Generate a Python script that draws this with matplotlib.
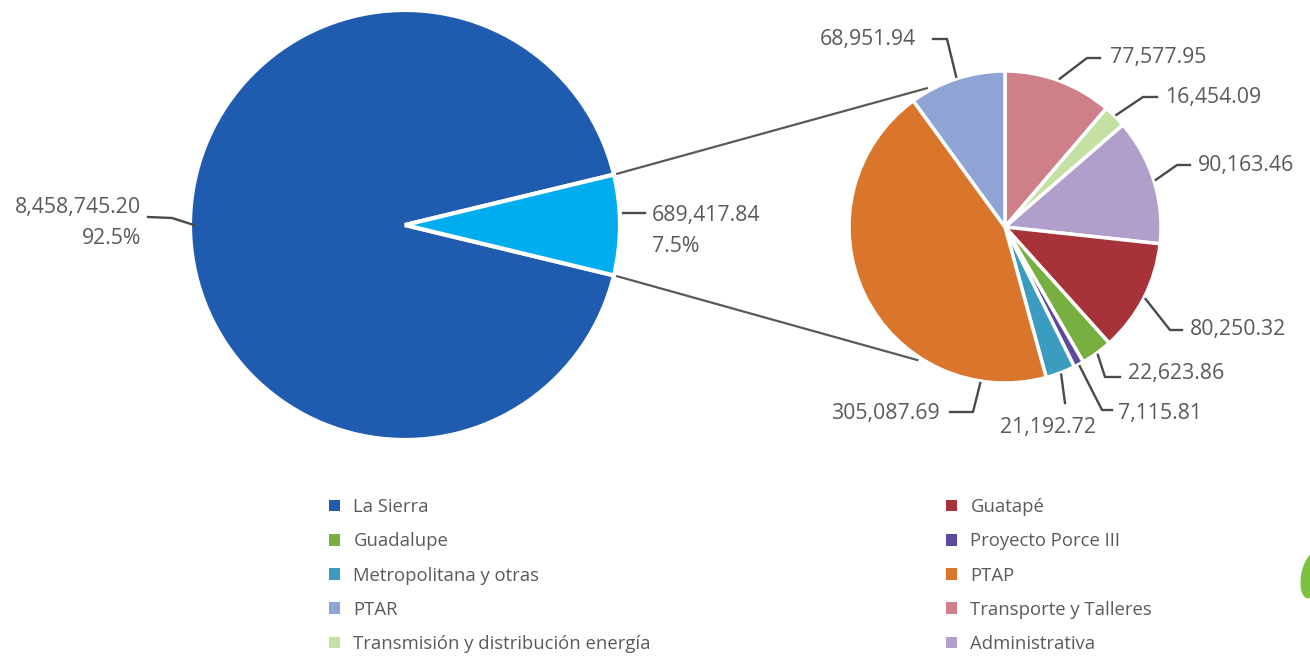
import numpy as np
import matplotlib
matplotlib.use("Agg")
import matplotlib.pyplot as plt
from matplotlib.patches import Patch, Ellipse

plt.rcParams['font.family'] = ['Open Sans', 'DejaVu Sans']

W, H = 1310, 658
TEXT = '#5a5a5a'
LINE = '#4a4a4a'

# Totals split: La Sierra vs. the rest
main_labels = ['La Sierra', 'Otras']
main_values = [8458745.20, 689417.84]
main_colors = ['#1f5baf', '#00adee']

# Breakdown of the rest, clockwise from twelve o'clock
sub_labels = ['Transporte y Talleres', 'Transmisión y distribución energía',
              'Administrativa', 'Guatapé', 'Guadalupe', 'Proyecto Porce III',
              'Metropolitana y otras', 'PTAP', 'PTAR']
sub_values = [77577.95, 16454.09, 90163.46, 80250.32, 22623.86, 7115.81,
              21192.72, 305087.69, 68951.94]
sub_colors = ['#cf7f88', '#c4e0a2', '#b19fcb', '#a8323a', '#77b041',
              '#5d4a9b', '#3b9cbf', '#da762c', '#8fa3d4']

legend_left = ['La Sierra', 'Guadalupe', 'Metropolitana y otras', 'PTAR',
               'Transmisión y distribución energía']
legend_right = ['Guatapé', 'Proyecto Porce III', 'PTAP',
                'Transporte y Talleres', 'Administrativa']

color_of = dict(zip(sub_labels, sub_colors))
color_of['La Sierra'] = main_colors[0]


def px(x, y):
    """Pixel position (y measured from the top) to data coordinates."""
    return x, H - y


fig = plt.figure(figsize=(W / 100, H / 100), dpi=100)
ax = fig.add_axes([0, 0, 1, 1])

# ---- main pie -------------------------------------------------------------
c_main = np.array(px(405, 225))
r_main = 215
total = sum(main_values)
theta_other = 360 * main_values[1] / total
main_wedges, _ = ax.pie(main_values, colors=main_colors, center=c_main,
                        radius=r_main, startangle=theta_other / 2,
                        counterclock=True, frame=True,
                        wedgeprops=dict(edgecolor='white', linewidth=3))

# ---- breakdown pie --------------------------------------------------------
c_sub = np.array(px(1005, 227))
r_sub = 156
sub_wedges, _ = ax.pie(sub_values, colors=sub_colors, center=c_sub,
                       radius=r_sub, startangle=90, counterclock=False,
                       frame=True,
                       wedgeprops=dict(edgecolor='white', linewidth=2.5))


def on_circle(c, r, ang):
    a = np.deg2rad(ang)
    return c + r * np.array([np.cos(a), np.sin(a)])


# connectors between the two pies
w_other = main_wedges[1]
for a_main, a_sub in [(w_other.theta2, 119), (w_other.theta1, -123)]:
    p0 = on_circle(c_main, r_main + 2, a_main)
    p1 = on_circle(c_sub, r_sub + 3, a_sub)
    ax.plot([p0[0], p1[0]], [p0[1], p1[1]], color='#5a5a5a', lw=1.6,
            solid_capstyle='butt', zorder=0)

# ---- value labels on the main pie ---------------------------------------
vsize = 15.3
p_edge = on_circle(c_main, r_main - 4, 180)
ax.plot([p_edge[0], 172, 148], [p_edge[1], H - 218, H - 217], color=LINE,
        lw=1.7)
ax.text(*px(141, 207), f"{main_values[0]:,.2f}", ha='right', va='center',
        fontsize=vsize, color=TEXT)
ax.text(*px(141, 238), f"{main_values[0] / total * 100:.1f}%", ha='right',
        va='center', fontsize=vsize, color=TEXT)

ax.plot([c_main[0] + r_main + 3, 645], [H - 213, H - 213], color=LINE, lw=1.7)
ax.text(*px(652, 216), f"{main_values[1]:,.2f}", ha='left', va='center',
        fontsize=vsize, color=TEXT)
ax.text(*px(652, 246), f"{main_values[1] / total * 100:.1f}%", ha='left',
        va='center', fontsize=vsize, color=TEXT)

# ---- value labels on the breakdown pie ----------------------------------
# name: (start angle override, elbow, end of shelf, text anchor, alignment)
label_layout = {
    'PTAR': (None, (947, 39), (933, 39), (916, 40), 'right'),
    'Transporte y Talleres': (None, (1087, 58), (1100, 58), (1110, 57), 'left'),
    'Transmisión y distribución energía': (None, (1143, 97), (1157, 97),
                                           (1165, 97), 'left'),
    'Administrativa': (None, (1177, 165), (1190, 165), (1198, 165), 'left'),
    'Guatapé': (None, (1170, 330), (1182, 330), (1190, 330), 'left'),
    'Guadalupe': (None, (1105, 377), (1120, 377), (1128, 374), 'left'),
    'Proyecto Porce III': (None, (1102, 410), (1112, 410), (1118, 414), 'left'),
    'Metropolitana y otras': (None, (1065, 403), (1065, 403), (1048, 427),
                              'center'),
    'PTAP': (-99, (973, 412), (950, 412), (940, 413), 'right'),
}

for name, val, w in zip(sub_labels, sub_values, sub_wedges):
    ang, elbow, shelf, tpos, ha = label_layout[name]
    if ang is None:
        ang = (w.theta1 + w.theta2) / 2
    p0 = on_circle(c_sub, r_sub + 2, ang)
    xs = [p0[0], elbow[0], shelf[0]]
    ys = [p0[1], H - elbow[1], H - shelf[1]]
    ax.plot(xs, ys, color=LINE, lw=1.7)
    ax.text(*px(*tpos), f"{val:,.2f}", ha=ha, va='center', fontsize=vsize,
            color=TEXT)

# ---- legend ---------------------------------------------------------------
leg_kw = dict(loc='upper left', frameon=False, fontsize=13.3,
              handlelength=0.6, handleheight=0.6, handletextpad=0.72,
              labelspacing=0.88, borderpad=0, borderaxespad=0,
              labelcolor=TEXT)
leg1 = ax.legend(handles=[Patch(facecolor=color_of[n]) for n in legend_left],
                 labels=legend_left, bbox_to_anchor=(329 / W, 1 - 498 / H),
                 **leg_kw)
ax.add_artist(leg1)
ax.legend(handles=[Patch(facecolor=color_of[n]) for n in legend_right],
          labels=legend_right, bbox_to_anchor=(946 / W, 1 - 498 / H),
          **leg_kw)

# small leaf mark at the lower right edge
ax.add_patch(Ellipse(px(1312, 575), 20, 46, angle=-12, color='#7cc142',
                     zorder=1))

ax.set_xlim(0, W)
ax.set_ylim(0, H)
ax.set_aspect('equal')
ax.axis('off')

fig.savefig('out.png', dpi=100, facecolor='white')
